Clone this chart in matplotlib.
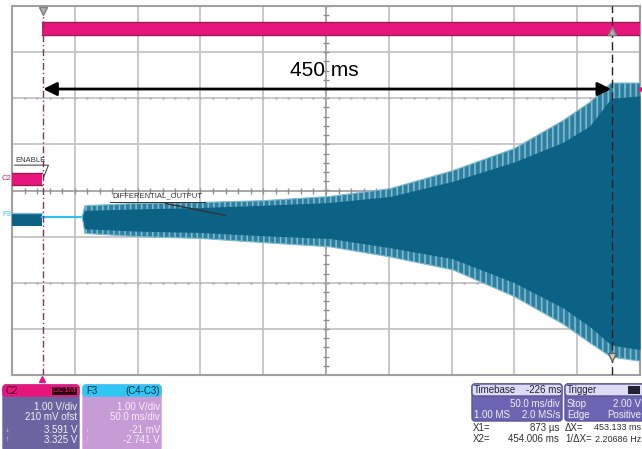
import numpy as np
import matplotlib.pyplot as plt
from matplotlib.patches import FancyBboxPatch, Rectangle

plt.rcParams['font.family'] = ['Liberation Sans', 'DejaVu Sans']
plt.rcParams['hatch.linewidth'] = 1.2

# time axis in ms (50 ms/div, centre at 226 ms), vertical in divisions
t_left, t_right = -24, 476
x1_t, x2_t = 0.9, 454.0

# C2 (ENABLE) trace: low before enable, high afterwards
c2_pre_t = [-24, 0]
c2_pre_lo = [0.11, 0.11]
c2_pre_hi = [0.39, 0.39]
c2_post_t = [0, 476]
c2_post_lo = [3.37, 3.37]
c2_post_hi = [3.65, 3.65]

# F3 (differential output)
f3_pre_t = [-24, 0]
f3_pre_lo = [-0.76, -0.76]
f3_pre_hi = [-0.48, -0.48]
f3_idle_t = [0, 34]
f3_idle_v = [-0.57, -0.57]
env_t = [32, 34, 76, 126, 176, 229, 277, 327, 376, 415, 436, 453, 476]
outer_hi = [-0.57, -0.33, -0.28, -0.26, -0.22, -0.13, 0.04, 0.43, 0.91, 1.52, 1.91, 2.33, 2.33]
outer_lo = [-0.57, -0.93, -1.00, -1.04, -1.13, -1.22, -1.44, -1.72, -2.30, -2.90, -3.30, -3.61, -3.70]
inner_hi = [-0.57, -0.43, -0.40, -0.37, -0.32, -0.26, -0.13, 0.20, 0.62, 1.05, 1.40, 2.00, 2.05]
inner_lo = [-0.57, -0.83, -0.88, -0.91, -0.98, -1.04, -1.24, -1.48, -2.00, -2.55, -2.95, -3.35, -3.45]

# info panels
c2_lines = ["1.00 V/div", "210 mV ofst", "3.591 V", "3.325 V"]
f3_lines = ["1.00 V/div", "50.0 ms/div", "-21 mV", "-2.741 V"]
tb_head = ("Timebase", "-226 ms")
tb_lines = [("", "50.0 ms/div"), ("1.00 MS", "2.0 MS/s")]
trig_lines = [("Stop", "2.00 V"), ("Edge", "Positive")]
cursor_rows = [("X1=", "873 µs", "ΔX=", "453.133 ms"),
               ("X2=", "454.006 ms", "1/ΔX=", "2.20686 Hz")]

PINK = '#e8157c'
DPINK = '#9a1c50'
DARK = '#0b6285'
LIGHT = '#7cbcd2'
CYAN = '#33c0ee'

fig = plt.figure(figsize=(6.42, 4.49), dpi=100)
ax = fig.add_axes([12/642, 74/449, 628/642, 369/449])
ax.set_xlim(t_left, t_right)
ax.set_ylim(-4, 4)
ax.set_xticks([])
ax.set_yticks([])
for s in ax.spines.values():
    s.set_color('#a0a0a0')
    s.set_linewidth(1.5)

# graticule
for k in range(1, 10):
    ax.axvline(t_left + 50 * k, color='#c4c4c4', lw=1.3, zorder=0)
for k in range(-3, 4):
    ax.axhline(k, color='#c4c4c4', lw=1.3, zorder=0)
ax.axvline(226, color='#a8a8a8', lw=1.3, zorder=0)
ax.axhline(0, color='#a8a8a8', lw=1.3, zorder=0)
mt = np.arange(t_left, t_right, 10)
ax.plot(mt, np.zeros_like(mt), '|', color='#909090', ms=4, zorder=0)
my = np.arange(-4, 4.01, 0.2)
ax.plot(np.full_like(my, 226), my, '_', color='#909090', ms=4, zorder=0)
for yy in (2.5, -2.5):
    ax.plot(mt, np.full_like(mt, yy), '.', color='#b0b0b0', ms=1.5, zorder=0)

# C2 trace
ax.fill_between(c2_pre_t, c2_pre_lo, c2_pre_hi, color=PINK, lw=0, zorder=3)
ax.fill_between(c2_post_t, c2_post_lo, c2_post_hi, color=PINK, lw=0, zorder=3)
for lo, hi, tt in ((c2_pre_lo, c2_pre_hi, c2_pre_t), (c2_post_lo, c2_post_hi, c2_post_t)):
    ax.plot(tt, lo, color=DPINK, lw=1, zorder=3)
    ax.plot(tt, hi, color=DPINK, lw=1, zorder=3)

# F3 trace
ax.fill_between(f3_pre_t, f3_pre_lo, f3_pre_hi, color=DARK, lw=0, zorder=3)
ax.plot(f3_pre_t, f3_pre_hi, color=LIGHT, lw=1, zorder=3)
ax.plot(f3_idle_t, f3_idle_v, color=CYAN, lw=1.6, zorder=3)
ax.fill_between(env_t, outer_lo, outer_hi, facecolor='#2f7e9e', edgecolor=LIGHT,
                hatch='|||', lw=0, zorder=3)
ax.plot(env_t, outer_hi, color=LIGHT, lw=0.8, zorder=3)
ax.plot(env_t, outer_lo, color=LIGHT, lw=0.8, zorder=3)
ax.fill_between(env_t, inner_lo, inner_hi, color=DARK, lw=0, zorder=3)

# cursors
ax.axvline(x1_t, color='#7a3a60', lw=1, ls=(0, (5, 2, 1, 2)), zorder=4)
ax.axvline(x2_t, color='#222222', lw=1, ls=(0, (6, 3)), zorder=4)
ax.plot([x1_t], [3.9], 'v', color='#b0b0b0', ms=6, mec='#808080', zorder=5)
ax.plot([x2_t], [3.45], '^', color='#b0b0b0', ms=6, mec='#808080', zorder=5)
ax.plot([x2_t], [-3.6], 'v', color='#d0d0d0', ms=6, mec='#606060', zorder=5)
ax.plot([t_right], [2.2], '<', color=PINK, ms=3, clip_on=False, zorder=5)

# measurement arrow
ax.annotate('', xy=(x2_t - 1, 2.2), xytext=(x1_t, 2.2),
            arrowprops=dict(arrowstyle='<|-|>', lw=2, color='k', mutation_scale=20,
                            shrinkA=0, shrinkB=0), zorder=6)
ax.text(225, 2.6, '450 ms', fontsize=15, ha='center', va='center', zorder=6)

# trace labels
ax.text(-21, 0.58, 'ENABLE', fontsize=5.5, color='#333333', va='bottom', zorder=6)
ax.plot([-22, 5, x1_t], [0.55, 0.55, 0.27], color='#333333', lw=0.7, zorder=6)
ax.text(56, -0.2, 'DIFFERENTIAL_OUTPUT', fontsize=5.5, color='#333333', va='bottom', zorder=6)
ax.plot([54, 130], [-0.24, -0.24], color='#333333', lw=0.7, zorder=6)
ax.plot([98, 146], [-0.28, -0.54], color='#333333', lw=1, zorder=6)

# overlay in pixel coordinates for the panels
ov = fig.add_axes([0, 0, 1, 1], facecolor='none')
ov.set_xlim(0, 642)
ov.set_ylim(449, 0)
ov.axis('off')

fig.text(2/642, 1 - 178/449, 'C2', fontsize=5.5, color=PINK, va='center')
fig.text(2/642, 1 - 215/449, 'F3', fontsize=5.5, color=CYAN, va='center')
ov.plot([42], [379], '^', color=PINK, ms=4)


def box(x, y, w, h, fc, ec=None):
    ov.add_patch(FancyBboxPatch((x, y), w, h, boxstyle='round,pad=0,rounding_size=3',
                                fc=fc, ec=ec or fc, lw=1))


fs = 7
# C2 panel
box(3, 385, 76, 66, '#6b64a0')
box(3, 385, 76, 11, PINK)
ov.text(6, 391, 'C2', fontsize=fs, color='#3a0020', va='center')
ov.add_patch(Rectangle((52, 387), 25, 8, fc='#2a0010'))
ov.text(76, 391, 'DC1M', fontsize=6, color=PINK, va='center', ha='right')
for i, s in enumerate(c2_lines):
    ov.text(77, 407 + i * 10 + (3 if i > 1 else 0), s, fontsize=fs, color='#f0f0f0',
            ha='right', va='center')
ov.text(5, 430, '↓', fontsize=5, color='#f0f0f0', va='center')
ov.text(5, 439, '↑', fontsize=5, color='#f0f0f0', va='center')

# F3 panel
box(83, 385, 78, 66, '#c79bd6')
box(83, 385, 78, 11, '#2ec6f2')
ov.text(86, 391, 'F3', fontsize=fs, color='#0a2a40', va='center')
ov.text(160, 391, '(C4-C3)', fontsize=fs, color='#0a2a40', va='center', ha='right')
for i, s in enumerate(f3_lines):
    ov.text(160, 407 + i * 10 + (3 if i > 1 else 0), s, fontsize=fs, color='#f6eefa',
            ha='right', va='center')
ov.text(85, 430, '↓', fontsize=5, color='#f6eefa', va='center')
ov.text(85, 439, '↑', fontsize=5, color='#f6eefa', va='center')

# Timebase panel
box(472, 384, 90, 37, '#6b64b0', '#5a5498')
box(472, 384, 90, 12, '#dcdcf2', '#5a5498')
ov.text(474, 390, tb_head[0], fontsize=fs, color='#202040', va='center')
ov.text(561, 390, tb_head[1], fontsize=fs, color='#202040', va='center', ha='right')
for i, (a, b) in enumerate(tb_lines):
    ov.text(474, 404 + i * 11, a, fontsize=fs, color='#f0f0f8', va='center')
    ov.text(560, 404 + i * 11, b, fontsize=fs, color='#f0f0f8', va='center', ha='right')

# Trigger panel
box(565, 384, 82, 37, '#6b64b0', '#5a5498')
box(565, 384, 82, 12, '#dcdcf2', '#5a5498')
ov.text(567, 390, 'Trigger', fontsize=fs, color='#202040', va='center')
ov.add_patch(Rectangle((628, 386), 12, 8, fc='#202030'))
for i, (a, b) in enumerate(trig_lines):
    ov.text(567, 404 + i * 11, a, fontsize=fs, color='#f0f0f8', va='center')
    ov.text(641, 404 + i * 11, b, fontsize=fs, color='#f0f0f8', va='center', ha='right')

# cursor readouts
for i, (a, b, c, d) in enumerate(cursor_rows):
    yy = 428 + i * 11
    ov.text(473, yy, a, fontsize=fs, color='#303030', va='center')
    ov.text(559, yy, b, fontsize=fs, color='#303030', va='center', ha='right')
    ov.text(565, yy, c, fontsize=fs, color='#303030', va='center')
    ov.text(641, yy, d, fontsize=6.5, color='#303030', va='center', ha='right')

fig.savefig('out.png', dpi=100)
